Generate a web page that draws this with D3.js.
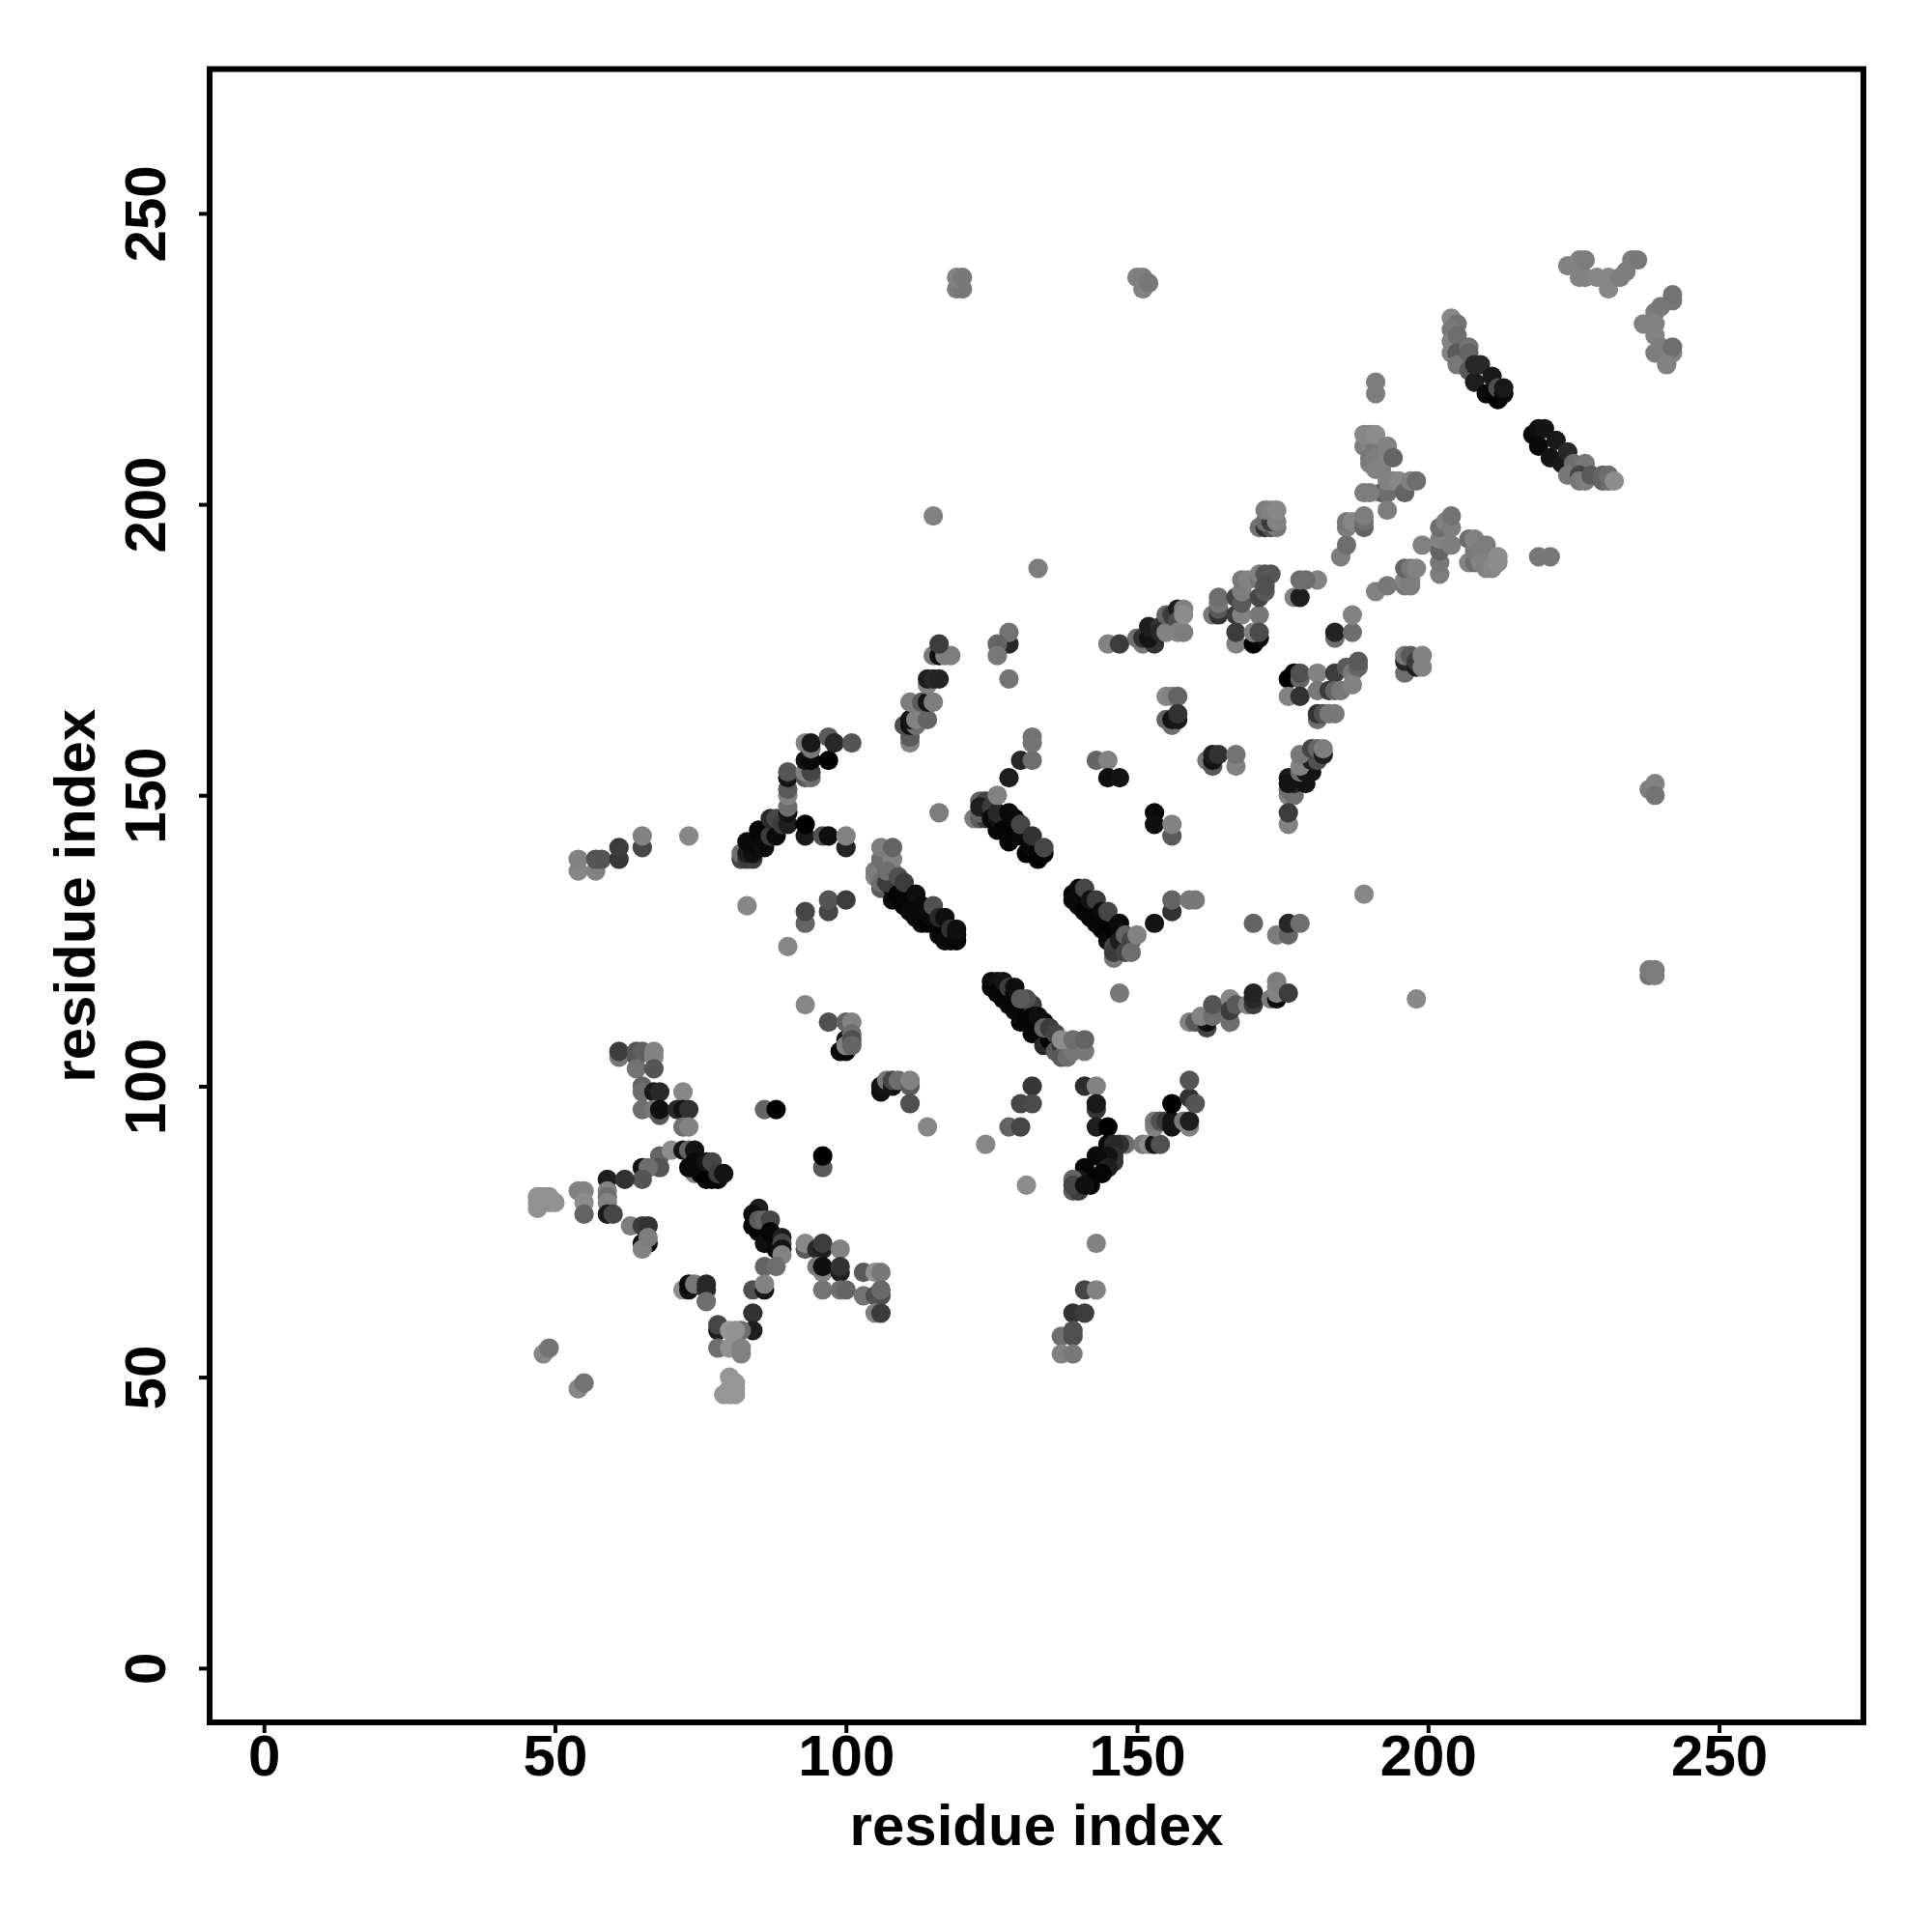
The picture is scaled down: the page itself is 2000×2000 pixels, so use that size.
<!DOCTYPE html>
<html><head><meta charset="utf-8"><script src="https://cdn.jsdelivr.net/npm/d3@7"></script>
<style>html,body{margin:0;background:#fff}svg{display:block}text{font-family:"Liberation Sans",Arial,sans-serif;font-weight:bold;fill:#000}</style></head>
<body><svg id="c" width="2000" height="2000"></svg><script>
const tickValues=[0,50,100,150,200,250];
const axisLabel="residue index";
const domain=[-9.33,274.8];
// each entry: residue i, residue j, grey level
const lowerLeft=[[61,105,120],[61,106,60],[64,105,85],[64,106,85],[65,106,95],[64,103,115],[67,105,135],[67,106,130],[67,103,85],[65,100,100],[65,99,110],[65,96,110],[67,99,25],[68,99,40],[72,99,135],[67,96,120],[68,95,90],[68,96,15],[71,96,40],[72,96,20],[73,96,50],[72,93,110],[73,93,130],[68,88,100],[68,86,85],[65,86,20],[66,86,110],[65,84,85],[70,89,140],[72,89,20],[73,89,100],[74,89,20],[74,85,130],[73,86,10],[74,87,10],[75,85,10],[76,84,0],[77,84,0],[78,84,5],[76,87,20],[77,87,70],[78,85,60],[79,85,20],[59,84,30],[62,84,50],[54,82,130],[55,82,130],[55,80,140],[55,78,100],[59,82,130],[59,81,110],[59,80,130],[59,78,25],[60,78,70],[47,81,145],[47,80,145],[47,79,145],[48,81,145],[49,81,145],[48,80,145],[49,80,145],[50,80,145],[63,76,125],[65,76,60],[66,76,50],[65,73,15],[66,73,15],[65,72,130],[66,74,125]];
const lowerMid=[[85,79,30],[84,78,15],[84,76,5],[85,75,5],[86,74,5],[86,73,15],[88,72,5],[88,73,10],[85,77,90],[86,77,100],[87,77,70],[87,75,5],[89,74,30],[89,73,70],[89,72,20],[89,71,130],[93,72,90],[93,73,135],[95,72,40],[96,72,30],[96,73,60],[99,72,130],[95,69,120],[96,68,130],[96,69,15],[99,68,30],[99,69,50],[86,69,100],[88,69,110],[96,65,115],[99,65,110],[100,65,100],[103,68,90],[105,68,145],[106,68,120],[103,64,115],[105,64,80],[106,64,80],[106,65,105],[105,61,130],[106,61,60],[72,65,140],[73,65,20],[73,66,10],[74,66,120],[76,65,40],[76,66,40],[76,63,110],[84,65,80],[86,65,20],[86,66,130],[84,61,50],[84,58,30],[82,58,110],[78,58,30],[78,59,70],[80,58,150],[81,58,145],[78,55,110],[80,55,145],[82,54,130],[82,55,130],[80,50,150],[81,49,150],[80,48,150],[81,48,150],[79,47,150],[80,47,150],[81,47,150],[48,54,135],[49,55,115],[54,48,135],[55,49,115],[86,96,100],[88,96,0],[96,86,90],[96,88,0]];
const midLeft=[[97,111,80],[100,111,100],[101,111,130],[99,106,10],[100,106,10],[100,108,20],[100,107,130],[101,109,110],[101,108,80],[101,107,100],[106,99,15],[106,100,20],[107,101,120],[108,100,20],[108,101,70],[109,101,110],[111,100,90],[111,101,130],[111,97,80],[114,93,135],[93,114,135],[124,90,135],[54,137,135],[54,139,130],[57,137,130],[57,139,85],[58,139,85],[61,139,55],[61,141,60],[65,141,70],[65,143,130],[73,143,135],[83,131,135],[90,124,135],[93,128,100],[93,130,70],[97,130,70],[97,132,85],[100,132,60]];
const upperLeft=[[82,139,70],[82,140,110],[83,139,60],[84,139,60],[83,140,30],[84,140,15],[83,142,10],[85,141,10],[85,144,5],[86,141,15],[86,142,10],[87,143,60],[88,143,10],[87,146,40],[88,146,70],[89,145,60],[90,145,30],[90,147,20],[90,148,110],[93,143,25],[93,145,0],[96,143,80],[97,143,15],[100,141,35],[100,143,130],[90,150,130],[90,151,90],[90,153,20],[90,154,85],[93,153,90],[94,153,110],[93,154,130],[94,154,70],[93,156,20],[94,156,10],[97,156,0],[93,159,130],[94,158,120],[94,159,25],[97,160,90],[98,159,40],[101,159,85],[111,159,130],[111,160,90],[110,162,80],[111,162,15],[112,162,110],[111,163,20],[112,163,130],[114,163,100],[111,166,125],[113,166,90],[114,166,20],[115,166,125],[114,169,130],[114,170,30],[115,170,40],[116,170,35],[115,174,120],[116,174,15],[117,174,125],[118,174,125],[116,176,60],[116,147,125],[115,198,130],[133,189,125]];
const bandB=[[105,136,130],[105,137,125],[106,134,90],[106,135,110],[106,139,110],[106,141,125],[108,132,10],[108,134,10],[108,137,130],[108,139,130],[108,141,100],[107,135,60],[107,137,110],[109,133,5],[109,136,80],[110,131,5],[110,135,60],[111,130,10],[112,129,10],[112,133,15],[113,128,10],[113,131,10],[114,128,5],[114,130,10],[115,129,10],[115,131,80],[116,126,5],[116,129,40],[117,125,10],[117,129,15],[118,125,10],[118,127,50],[119,125,5],[119,126,10],[119,127,15]];
const bandC=[[122,146,125],[123,146,90],[123,149,100],[124,149,70],[124,146,60],[123,147,100],[123,148,30],[125,148,60],[125,146,10],[126,144,5],[126,146,20],[126,147,40],[127,144,5],[128,142,5],[128,143,5],[129,143,5],[129,146,10],[130,143,10],[131,140,5],[131,143,10],[132,141,10],[133,139,0],[133,141,5],[134,140,5],[126,150,130],[128,147,10],[130,145,70],[132,143,50],[134,141,70],[128,176,40],[128,178,115],[126,176,100],[126,174,120],[128,170,115],[132,160,115],[132,159,115],[130,156,40],[132,156,110],[128,153,30],[143,156,100],[145,156,130],[145,153,15],[147,153,20],[153,147,10],[153,145,15],[156,143,90],[156,145,130]];
const bandD=[[139,133,5],[139,132,10],[140,131,10],[140,134,10],[141,134,70],[141,130,5],[142,129,5],[142,132,20],[143,132,60],[143,128,5],[144,127,5],[144,130,10],[145,130,70],[145,125,10],[146,124,70],[146,122,120],[146,123,60],[146,127,5],[147,128,10],[147,125,30],[148,123,70],[148,126,100],[149,125,70],[149,123,110],[150,126,130],[153,128,20],[156,130,50],[156,132,100],[159,132,120],[160,132,120],[170,128,100],[174,126,125],[176,126,100],[176,128,40],[178,128,110],[189,133,135],[198,115,135],[147,116,120]];
const bandA=[[125,118,10],[125,117,5],[126,118,15],[126,116,5],[127,118,20],[127,115,5],[128,117,60],[128,114,5],[129,116,10],[129,117,15],[129,113,5],[130,111,5],[130,112,10],[131,113,5],[131,111,5],[132,114,60],[132,112,5],[132,109,5],[133,110,5],[134,111,5],[134,107,40],[135,108,5],[136,106,90],[137,107,50],[137,105,90],[138,105,110],[139,106,120],[141,106,120],[131,115,80],[130,115,90],[133,112,15],[134,110,100],[135,110,60],[136,109,70],[137,108,140],[139,108,110],[141,108,100]];
const middle=[[132,100,55],[130,97,70],[132,97,75],[128,93,100],[130,93,70],[131,83,140],[141,100,45],[143,100,130],[143,96,55],[143,97,25],[143,93,30],[145,93,0],[148,90,110],[147,90,50],[145,90,10],[146,90,40],[146,88,50],[146,87,50],[145,88,20],[143,88,10],[145,86,30],[144,85,5],[141,86,5],[142,84,5],[142,83,5],[140,84,20],[139,84,100],[139,82,90],[140,82,60],[139,83,70],[141,83,15],[143,73,130],[141,65,70],[143,65,130],[139,61,50],[141,61,60],[137,57,110],[139,57,80],[139,58,80],[137,54,130],[139,54,120],[151,90,120],[152,90,140],[153,90,20],[154,90,80],[153,93,130],[153,94,120],[154,94,80],[155,94,60],[156,93,20],[156,94,20],[156,97,0],[158,94,120],[159,93,130],[159,94,30],[159,98,50],[160,97,85],[159,101,85],[159,111,130],[160,111,90],[162,110,70],[162,111,15],[161,112,130],[163,112,110],[163,114,85],[166,111,110],[166,115,135],[166,113,60],[167,114,90],[169,114,130],[170,114,60],[170,115,40],[170,116,35],[173,115,120],[174,115,10],[174,116,130],[174,117,130],[174,118,125],[176,116,60]];
const centre=[[145,176,130],[147,176,60],[150,177,110],[151,176,120],[151,177,50],[153,176,50],[152,177,20],[152,179,30],[154,179,50],[154,178,40],[155,178,130],[155,181,100],[156,181,60],[157,182,30],[157,180,80],[157,178,130],[158,178,125],[158,182,130],[158,181,140],[155,167,135],[156,167,130],[157,167,100],[155,163,100],[156,162,110],[156,163,20],[157,163,25],[157,164,50],[162,156,120],[163,155,90],[163,156,20],[163,157,30],[164,157,50],[167,155,130],[167,157,115],[163,181,120],[164,181,50],[164,182,90],[164,183,120],[164,184,110],[167,181,60],[168,181,130],[167,184,70],[168,183,90],[168,185,125],[168,187,120],[169,187,130],[171,181,120],[171,184,70],[171,187,115],[171,188,130],[172,188,85],[173,188,85],[172,185,90],[172,186,80],[167,176,130],[167,178,60],[170,176,0],[171,177,10],[170,178,130],[171,178,75],[171,196,115],[172,196,50],[173,196,80],[173,198,30],[174,196,120],[172,197,110],[173,197,60],[174,197,130],[172,199,125],[173,199,130],[174,199,135],[177,184,130],[178,184,30],[178,187,110],[181,187,130],[184,177,110],[184,178,35],[187,178,110],[187,181,130],[176,170,0],[177,171,0],[178,170,100],[178,171,80],[176,167,130],[178,167,50],[181,171,130],[184,171,60],[186,172,90],[187,171,120],[188,172,100],[188,173,90],[181,168,120],[183,168,60],[184,168,100],[185,168,120],[187,169,130],[181,163,110],[181,164,50],[182,164,80],[183,164,120],[184,164,120],[176,150,130],[177,150,110],[176,151,110],[177,152,40],[176,153,25],[176,152,20],[179,152,20],[178,154,110],[179,154,20],[180,154,20],[178,155,130],[180,156,30],[181,156,80],[178,157,120],[180,158,70],[181,158,100],[182,157,30],[182,158,125],[176,145,130],[176,147,60]];
const upperRight=[[196,171,110],[196,173,40],[196,174,120],[197,174,90],[198,172,30],[198,173,60],[199,172,130],[199,174,130],[191,185,130],[193,186,120],[196,186,120],[197,187,130],[224,241,130],[226,239,130],[227,239,130],[226,242,130],[227,242,125],[229,239,135],[231,237,135],[231,239,135],[233,239,125],[234,240,125],[235,242,125],[236,242,120],[237,231,130],[239,233,125],[240,234,120],[242,235,120],[242,236,115],[239,231,130],[239,229,130],[239,226,125],[240,227,125],[242,226,130],[242,227,110],[241,224,130],[204,232,135],[205,231,115],[204,230,120],[204,228,130],[204,226,130],[205,229,110],[205,226,90],[205,224,120],[207,227,115],[207,226,100],[207,223,90],[208,221,30],[208,224,40],[209,224,40],[210,219,10],[212,218,0],[211,222,25],[212,220,80],[213,219,10],[213,220,25],[218,212,10],[219,210,10],[219,213,15],[220,213,20],[221,208,20],[222,211,25],[223,207,25],[224,209,40],[225,207,110],[227,207,120],[224,205,120],[226,205,70],[226,204,120],[227,204,125],[228,205,90],[230,204,100],[231,204,110],[230,205,100],[231,205,110],[232,204,140],[191,219,125],[191,221,125],[189,210,125],[190,210,130],[191,210,120],[189,212,135],[190,212,135],[191,212,140],[190,207,130],[190,208,120],[191,208,125],[192,206,125],[191,206,130],[193,208,130],[193,210,130],[194,208,100],[192,202,90],[193,202,110],[193,204,130],[194,204,130],[195,204,135],[196,202,100],[197,204,130],[198,204,110],[189,202,125],[190,202,125],[193,199,125],[185,191,125],[186,193,110],[186,196,125],[186,197,120],[187,197,135],[189,196,100],[189,197,110],[189,198,125],[179,187,110],[196,187,130],[197,186,125],[196,189,100],[197,189,120],[198,189,130],[199,193,130],[202,188,125],[202,190,120],[202,192,100],[202,194,130],[202,196,110],[203,197,130],[204,193,125],[204,196,125],[204,198,115],[207,190,130],[207,194,110],[208,190,110],[208,192,120],[208,194,130],[209,192,125],[209,190,130],[210,189,130],[210,193,125],[211,189,135],[212,190,140],[212,191,140],[219,191,120],[221,191,120]];
const isolated=[[119,237,125],[120,237,120],[119,239,130],[120,239,120],[150,239,130],[151,239,125],[151,237,130],[152,238,120],[238,151,125],[239,152,130],[239,150,115],[238,119,115],[239,119,125],[238,120,125],[239,120,125]];
const allContacts=[lowerLeft,lowerMid,midLeft,upperLeft,bandB,bandC,bandD,bandA,middle,centre,upperRight,isolated].flat();

const svg=d3.select("#c");
const frame={l:217,r:1929,t:71.5,b:1783};
const x=d3.scaleLinear().domain(domain).range([frame.l,frame.r]);
const y=d3.scaleLinear().domain(domain).range([frame.b,frame.t]);

svg.append("g").selectAll("circle").data(allContacts).join("circle")
  .attr("cx",d=>x(d[0])).attr("cy",d=>y(d[1])).attr("r",10.1)
  .attr("fill",d=>d3.rgb(d[2],d[2],d[2]));

svg.append("rect").attr("x",frame.l).attr("y",frame.t).attr("width",frame.r-frame.l).attr("height",frame.b-frame.t)
  .attr("fill","none").attr("stroke","#000").attr("stroke-width",6);

const gx=svg.append("g").attr("transform",`translate(0,${frame.b})`)
  .call(d3.axisBottom(x).tickValues(tickValues).tickSize(11).tickPadding(14));
const gy=svg.append("g").attr("transform",`translate(${frame.l},0)`)
  .call(d3.axisLeft(y).tickValues(tickValues).tickSize(11));
[gx,gy].forEach(g=>{g.select(".domain").remove();g.selectAll(".tick line").attr("stroke","#000").attr("stroke-width",4);});
gx.selectAll("text").attr("font-size",60).attr("dy",null).attr("y",55);
gy.selectAll("text").attr("font-size",60).attr("x",null).attr("dy",null).attr("y",null)
  .attr("text-anchor","middle").attr("transform","translate(-46,0) rotate(-90)");

svg.append("text").attr("x",(frame.l+frame.r)/2).attr("y",1910).attr("text-anchor","middle").attr("font-size",60).text(axisLabel);
svg.append("text").attr("transform",`translate(98,${(frame.t+frame.b)/2}) rotate(-90)`).attr("text-anchor","middle").attr("font-size",60).text(axisLabel);
</script></body></html>
